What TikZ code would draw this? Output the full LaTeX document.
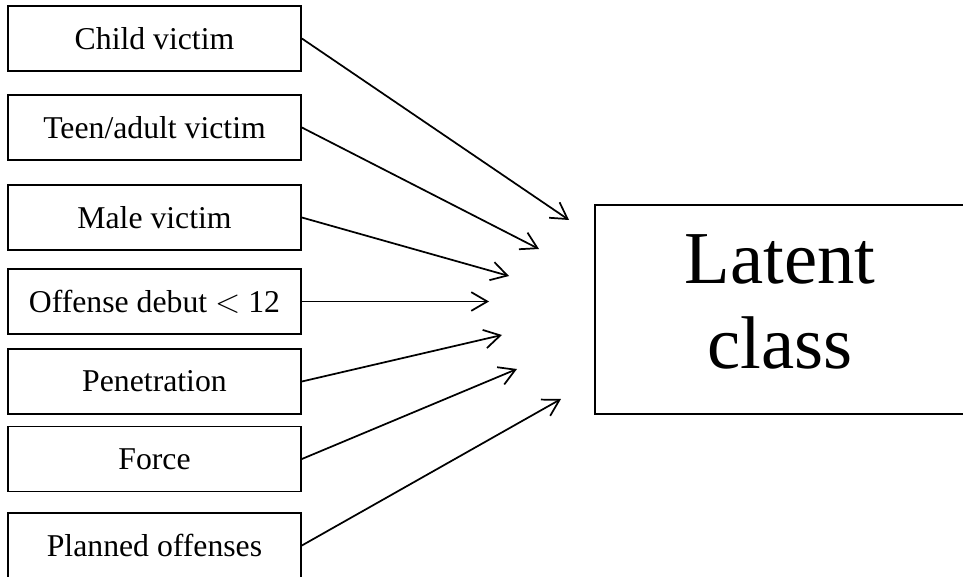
\documentclass[tikz,border=0pt]{standalone}
\usepackage{fontspec}
\setmainfont{Liberation Serif}
\usetikzlibrary{arrows.meta}

\begin{document}
\begin{tikzpicture}[x=0.75pt, y=-0.75pt,
    itembox/.style={draw, line width=1.3pt, minimum width=219.75pt, minimum height=48.75pt,
        inner sep=0pt, font=\fontsize{23.8}{28}\selectfont},
    classbox/.style={draw, line width=1.3pt, minimum width=277.5pt, minimum height=156.75pt,
        align=center, text depth=12pt, font=\fontsize{56}{64}\selectfont},
    arr/.style={-{Straight Barb[length=12pt, width=14pt]}, line width=1.3pt}]
    \useasboundingbox (0,0) rectangle (963,577);

    \node[itembox] (child) at (154.5,38.5) {Child victim};
    \node[itembox] (teen) at (154.5,127.5) {Teen/adult victim};
    \node[itembox] (male) at (154.5,217.5) {Male victim};
    \node[itembox] (debut) at (154.5,301.5) {Offense debut $<$ 12};
    \node[itembox] (pen) at (154.5,381.5) {Penetration};
    \node[itembox] (force) at (154.5,459) {Force};
    \node[itembox] (plan) at (154.5,545.5) {Planned offenses};

    \node[classbox] (latent) at (780,309.5) {Latent\\class};

    % arrow tips stop short of the latent box
    \coordinate (tchild) at (569,220);
    \coordinate (tteen) at (539,249);
    \coordinate (tmale) at (509,276);
    \coordinate (tdebut) at (489,301.5);
    \coordinate (tpen) at (502,335);
    \coordinate (tforce) at (517,369);
    \coordinate (tplan) at (561,399);

    \draw[arr] (child.east) -- (tchild);
    \draw[arr] (teen.east) -- (tteen);
    \draw[arr] (male.east) -- (tmale);
    \draw[arr] (debut.east) -- (tdebut);
    \draw[arr] (pen.east) -- (tpen);
    \draw[arr] (force.east) -- (tforce);
    \draw[arr] (plan.east) -- (tplan);
\end{tikzpicture}
\end{document}
